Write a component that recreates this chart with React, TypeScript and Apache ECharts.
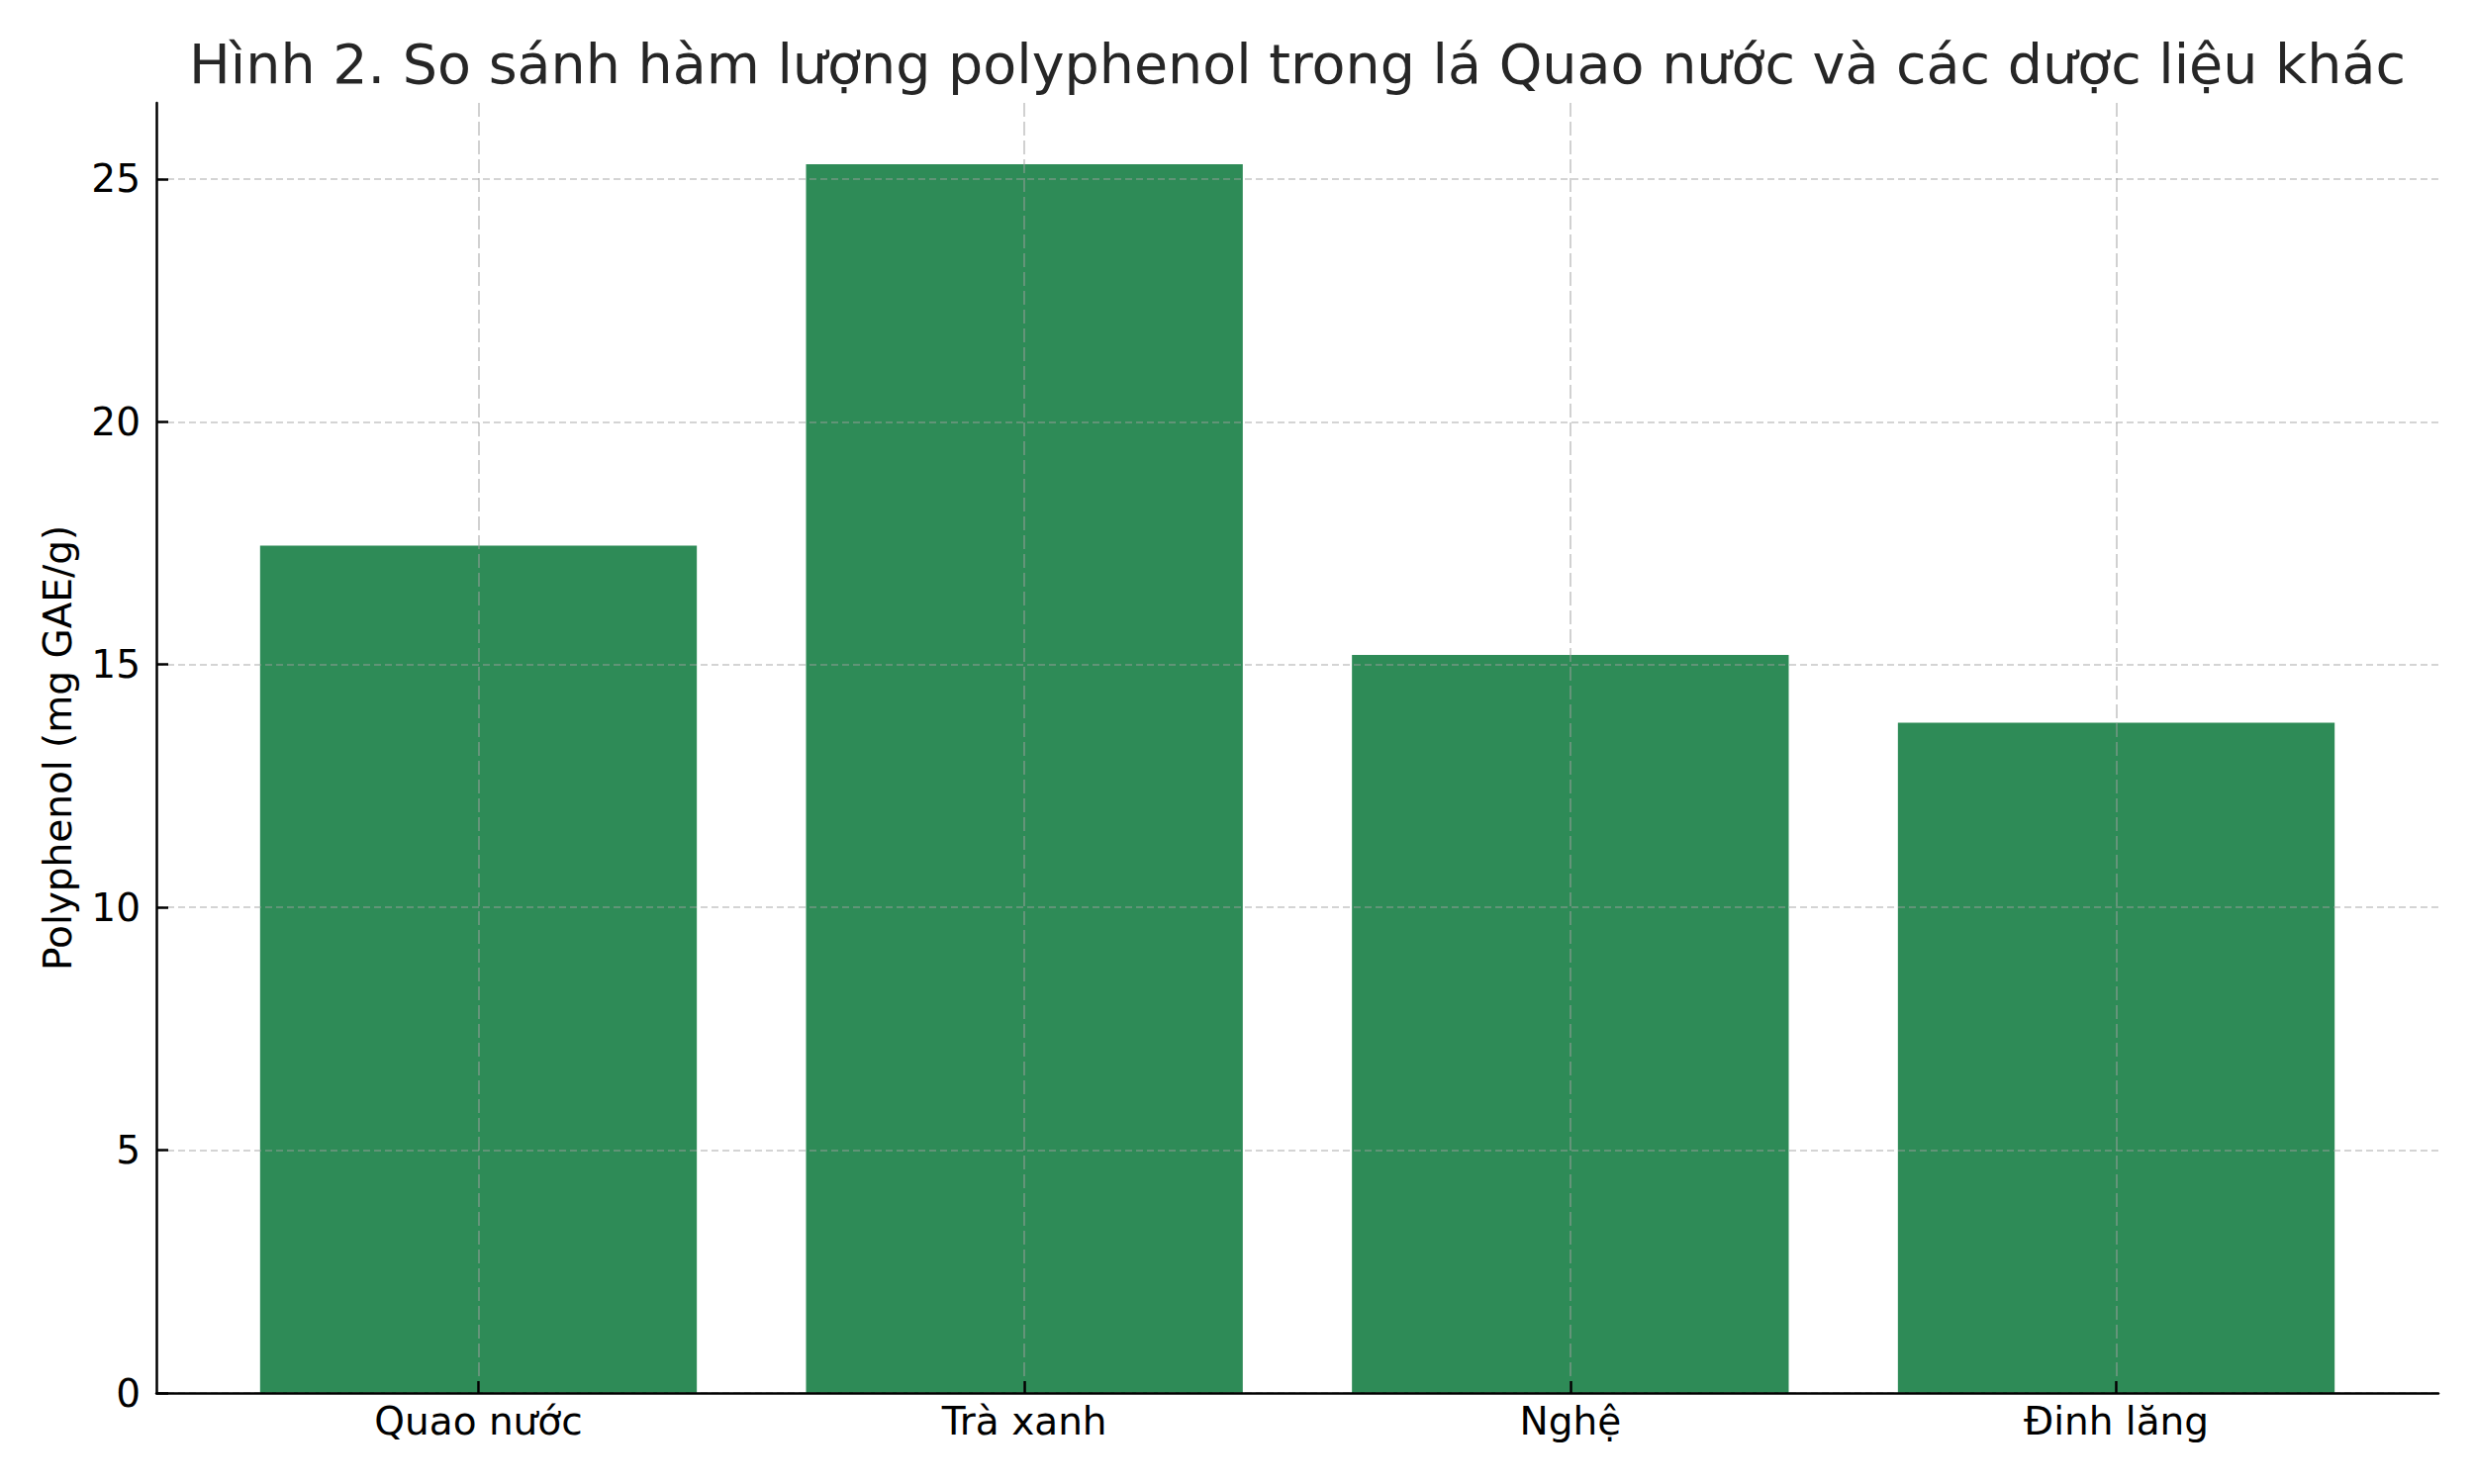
import { useEffect, useRef } from "react";
import * as echarts from "echarts";

const categories = ["Quao nước", "Trà xanh", "Nghệ", "Đinh lăng"];
const polyphenol = [17.45, 25.3, 15.2, 13.8];
const yTicks = [0, 5, 10, 15, 20, 25];
const titleText = "Hình 2. So sánh hàm lượng polyphenol trong lá Quao nước và các dược liệu khác";

const FONT = "'DejaVu Sans', Verdana, sans-serif";
const GRID_COLOR = "rgba(160, 160, 160, 0.6)";

const App: React.FC = () => {
  const containerRef = useRef<HTMLDivElement>(null);

  useEffect(() => {
    if (!containerRef.current) return;
    document.body.style.margin = "0";

    const chart = echarts.init(containerRef.current, null, { renderer: "svg" });

    // matplotlib-like margins: 5% of the data range on each side
    const xMin = -0.4 - 0.19;
    const xMax = categories.length - 1 + 0.4 + 0.19;
    const yMax = Math.max(...polyphenol) * 1.05;

    const gridLeft = 158;
    const gridRight = 36;

    chart.setOption({
      animation: false,
      backgroundColor: "#ffffff",
      textStyle: { fontFamily: FONT },
      // title centred over the plot area, not the whole canvas
      graphic: [
        {
          type: "text",
          x: (gridLeft + 2500 - gridRight) / 2,
          y: 64,
          style: {
            text: titleText,
            font: `55.5px ${FONT}`,
            fill: "#262626",
            textAlign: "center",
            textVerticalAlign: "middle"
          }
        }
      ],
      grid: {
        left: gridLeft,
        right: gridRight,
        top: 104,
        bottom: 92,
        containLabel: false
      },
      xAxis: {
        type: "value",
        min: xMin,
        max: xMax,
        z: 3, // grid lines drawn over the bars
        axisLine: { show: true, onZero: false, lineStyle: { color: "#000", width: 2.5 } },
        axisTick: {
          show: true,
          inside: true,
          length: 12,
          customValues: categories.map((_, i) => i),
          lineStyle: { color: "#000", width: 2.5 }
        },
        axisLabel: {
          customValues: categories.map((_, i) => i),
          formatter: (v: number) => categories[Math.round(v)] ?? "",
          fontFamily: FONT,
          fontSize: 39,
          color: "#000",
          margin: 9
        },
        splitLine: {
          show: true,
          lineStyle: { color: GRID_COLOR, width: 1.6, type: [14, 5] }
        }
      },
      yAxis: {
        type: "value",
        min: 0,
        max: yMax,
        z: 3,
        name: "Polyphenol (mg GAE/g)",
        nameLocation: "middle",
        nameGap: 80,
        nameTextStyle: { fontFamily: FONT, fontSize: 39, color: "#000" },
        axisLine: { show: true, onZero: false, lineStyle: { color: "#000", width: 2.5 } },
        axisTick: {
          show: true,
          inside: true,
          length: 12,
          customValues: yTicks,
          lineStyle: { color: "#000", width: 2.5 }
        },
        axisLabel: {
          customValues: yTicks,
          fontFamily: FONT,
          fontSize: 39,
          color: "#000",
          margin: 16
        },
        splitLine: {
          show: true,
          lineStyle: { color: GRID_COLOR, width: 1.6, type: [7, 4] }
        }
      },
      series: [
        {
          type: "bar",
          data: polyphenol.map((v, i) => [i, v]),
          barWidth: "80%",
          itemStyle: { color: "#2e8b57" },
          z: 2
        }
      ]
    });

    return () => {
      chart.dispose();
    };
  }, []);

  return <div ref={containerRef} style={{ width: "2500px", height: "1500px" }} />;
};

export default App;
